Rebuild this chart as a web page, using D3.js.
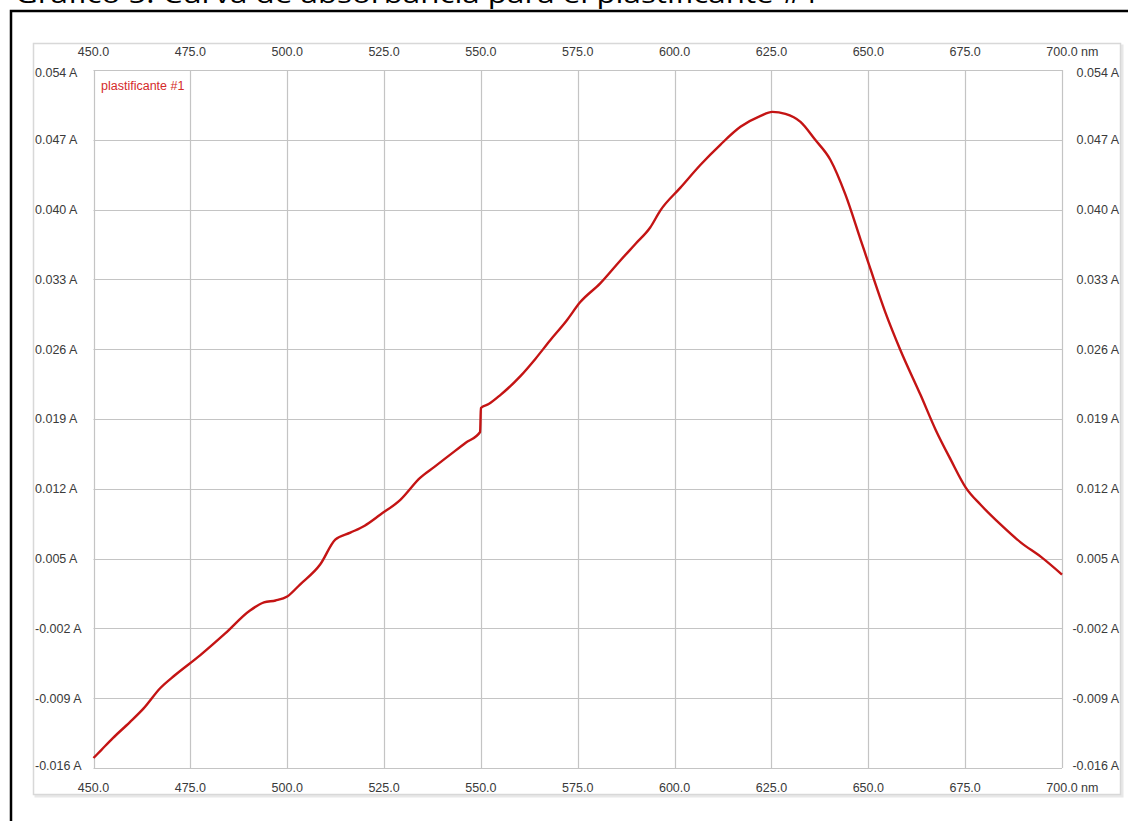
<!DOCTYPE html>
<html><head><meta charset="utf-8">
<script src="https://cdn.jsdelivr.net/npm/d3@7"></script>
<style>body{margin:0;background:#fff;}svg{display:block;font-family:"Liberation Sans",Arial,sans-serif;}</style>
</head><body><svg id="c" width="1128" height="821"></svg>
<script>
const titleText = "Gráfico 5. Curva de absorbancia para el plastificante #1";
const seriesName = "plastificante #1";
const xTicks = [450,475,500,525,550,575,600,625,650,675,700];
const yTicks = [0.054,0.047,0.040,0.033,0.026,0.019,0.012,0.005,-0.002,-0.009,-0.016];
const wavelength = [450,452,455,459.4,463,467.2,471,477.5,484,490.4,494,497,500,503.3,508.5,512.4,516.3,520,524,529.2,534.3,538,542,546,549.8,550,552,555,560.2,564,567.9,572,575.6,580.8,586,590,593.7,596.3,601.5,606.7,611.8,617,622.2,625.2,628.6,632.5,636.3,640.2,644.1,648,650.5,654.4,658.3,663.5,667.4,671.3,675.2,679,684.2,689.4,694.5,700];
const absorbance = [-0.0150,-0.0142,-0.0130,-0.0114,-0.0100,-0.0080,-0.0067,-0.0047,-0.0025,-0.0002,0.0006,0.0008,0.0012,0.0024,0.0044,0.0069,0.0076,0.0083,0.0094,0.0109,0.0131,0.0142,0.0154,0.0166,0.0177,0.0201,0.0205,0.0214,0.0233,0.0250,0.0269,0.0288,0.0307,0.0326,0.0349,0.0366,0.0382,0.0399,0.0422,0.0445,0.0465,0.0483,0.0494,0.0498,0.0496,0.0488,0.0470,0.0450,0.0415,0.0370,0.0341,0.0297,0.0259,0.0214,0.0179,0.0149,0.0121,0.0104,0.0084,0.0066,0.0052,0.0034];

const svg = d3.select("#c");
// title (clipped at top, as in the reference)
svg.append("text").attr("x",15).attr("y",3).attr("font-family","'Open Sans',Arial,sans-serif")
  .attr("font-size",26).attr("textLength",805).attr("lengthAdjust","spacingAndGlyphs").attr("fill","#000").text(titleText);
// outer black frame
svg.append("rect").attr("x",11).attr("y",11).attr("width",1130).attr("height",830).attr("fill","none").attr("stroke","#000").attr("stroke-width",2.5);
// gray panel
svg.append("rect").attr("x",34.5).attr("y",44.5).attr("width",1089).attr("height",753).attr("fill","#e8e8e8").attr("stroke","none");
svg.append("rect").attr("x",33.5).attr("y",43.5).attr("width",1087).attr("height",751).attr("fill","#fff").attr("stroke","#d8d8d8").attr("stroke-width",1.5);

const x = d3.scaleLinear().domain([450,700]).range([93.5,1062]);
const y = d3.scaleLinear().domain([-0.016,0.054]).range([768,70]);

const g = svg.append("g");
g.selectAll(".vg").data(xTicks).join("line").attr("x1",d=>Math.round(x(d))+0.5).attr("x2",d=>Math.round(x(d))+0.5)
  .attr("y1",y(0.054)).attr("y2",y(-0.016)).attr("stroke","#c4c4c4").attr("stroke-width",1.2);
g.selectAll(".hg").data(yTicks).join("line").attr("y1",d=>Math.round(y(d))+0.5).attr("y2",d=>Math.round(y(d))+0.5)
  .attr("x1",x(450)).attr("x2",x(700)).attr("stroke","#c4c4c4").attr("stroke-width",1.2);

const fmtX = d=> d.toFixed(1);
const fmtY = d=> d.toFixed(3) + " A";
const lab = {fill:"#3a3a3a","font-size":12.5};
function applyLab(s){Object.entries(lab).forEach(([k,v])=>s.attr(k,v));return s;}
// top & bottom x labels
[52,788].forEach(yy=>{
  applyLab(g.selectAll(null).data(xTicks).join("text").attr("x",d=>x(d)).attr("y",yy).attr("dy","0.35em")
   .attr("text-anchor","middle").text(d=>fmtX(d)));
  applyLab(g.append("text").attr("x",x(700)+19).attr("y",yy).attr("dy","0.35em").text("nm"));
});
// left & right y labels
const yOff = d=> d===0.054?3:(d===-0.016?-2:0);
applyLab(g.selectAll(null).data(yTicks).join("text").attr("x",35).attr("y",d=>y(d)+yOff(d)).attr("dy","0.35em").text(fmtY));
applyLab(g.selectAll(null).data(yTicks).join("text").attr("x",1119).attr("text-anchor","end").attr("y",d=>y(d)+yOff(d)).attr("dy","0.35em").text(fmtY));

// legend
svg.append("text").attr("x",101).attr("y",90).attr("font-size",12.5).attr("fill","#d42a2a").text(seriesName);

// curve
const pts = wavelength.map((w,i)=>[w,absorbance[i]]);
svg.append("path").datum(pts).attr("fill","none").attr("stroke","#c41414").attr("stroke-width",2.4)
  .attr("stroke-linejoin","round")
  .attr("d",d3.line().x(d=>x(d[0])).y(d=>y(d[1])).curve(d3.curveMonotoneX));
</script></body></html>
